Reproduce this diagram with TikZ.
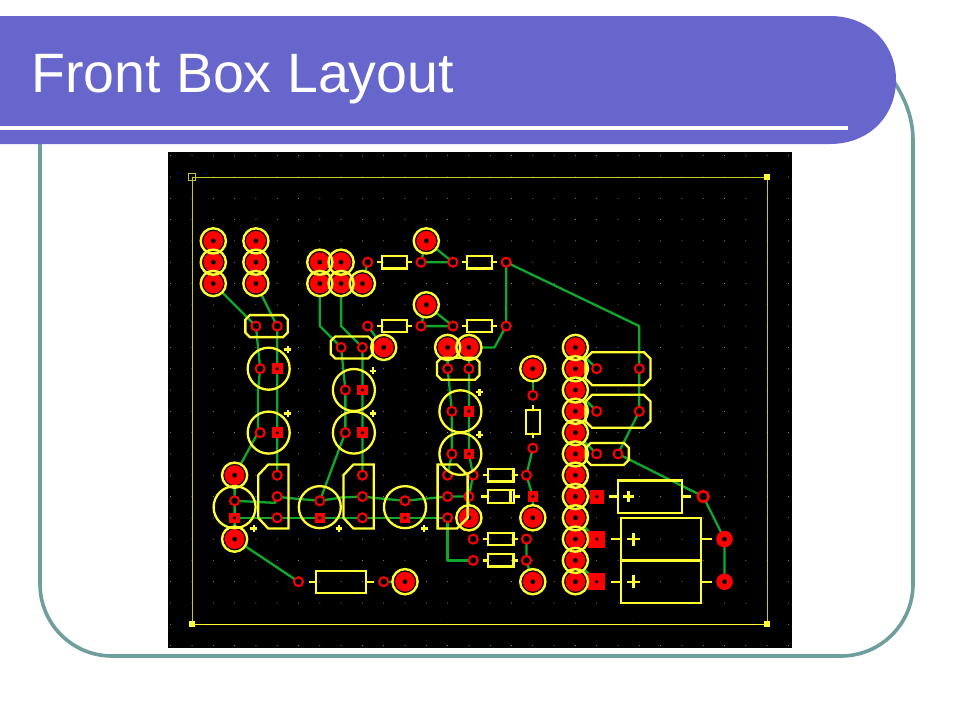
\documentclass[tikz,border=0pt]{standalone}
\usepackage{fontspec}
\setmainfont{Liberation Sans}
\definecolor{banner}{HTML}{6666CC}
\definecolor{framec}{HTML}{6F9E9E}
\definecolor{pcbyellow}{HTML}{FFFF33}
\definecolor{pcbolive}{HTML}{C8C828}
\definecolor{pcbgreen}{HTML}{10A82C}
\definecolor{pcbred}{HTML}{FF0000}
\definecolor{pcbdot}{HTML}{A0A090}
\tikzset{
  trace/.style={draw=pcbgreen,line width=2.3pt,line join=round},
  silk/.style={draw=pcbyellow,line width=2.3pt,line join=miter},
  boardline/.style={draw=pcbolive,line width=1pt},
}
% large pad: red disc, black drill hole
\newcommand{\bigpad}[2]{%
  \fill[black] (#1,#2) circle (12pt);
  \fill[pcbred] (#1,#2) circle (10pt);
  \fill[black] (#1,#2) circle (2.4pt);}
\newcommand{\bigring}[2]{\draw[silk,line width=2.4pt] (#1,#2) circle (12.6pt);}
\newcommand{\barepad}[3]{%
  \fill[pcbred] (#1,#2) circle (#3);
  \fill[black] (#1,#2) circle (2.4pt);}
% small ring pad
\newcommand{\ringpad}[2]{%
  \fill[black] (#1,#2) circle (4.4pt);
  \draw[pcbred,line width=2pt] (#1,#2) circle (4.5pt);}
% square pad
\newcommand{\sqpad}[3]{%
  \fill[pcbred] ([shift={(-#3,-#3)}]#1,#2) rectangle ([shift={(#3,#3)}]#1,#2);
  \fill[black] (#1,#2) circle (1.8pt);}
\newcommand{\plusmark}[3]{%
  \draw[silk] ([shift={(-#3,0pt)}]#1,#2) -- ([shift={(#3,0pt)}]#1,#2);
  \draw[silk] ([shift={(0pt,-#3)}]#1,#2) -- ([shift={(0pt,#3)}]#1,#2);}
% horizontal two-lead body: centre i j, half width, half height, lead reach
\newcommand{\hbody}[5]{%
  \draw[silk] ([shift={(-#3,-#4)}]#1,#2) rectangle ([shift={(#3,#4)}]#1,#2);
  \draw[silk] ([shift={(-#5,0pt)}]#1,#2) -- ([shift={(-#3,0pt)}]#1,#2);
  \draw[silk] ([shift={(#3,0pt)}]#1,#2) -- ([shift={(#5,0pt)}]#1,#2);}
% chamfered header: centre i j, half width, half height, chamfer
\newcommand{\hdrbox}[5]{%
  \draw[silk] ([shift={(-#3+#5,#4)}]#1,#2) -- ([shift={(#3-#5,#4)}]#1,#2) --
    ([shift={(#3,#4-#5)}]#1,#2) -- ([shift={(#3,-#4+#5)}]#1,#2) --
    ([shift={(#3-#5,-#4)}]#1,#2) -- ([shift={(-#3+#5,-#4)}]#1,#2) --
    ([shift={(-#3,-#4+#5)}]#1,#2) -- ([shift={(-#3,#4-#5)}]#1,#2) -- cycle;}
\begin{document}
\begin{tikzpicture}[x=1pt,y=-1pt]
\useasboundingbox (0,0) rectangle (960,720);
\fill[white] (0,0) rectangle (960,720);
% slide frame
\draw[framec,line width=3.6pt,rounded corners=72pt] (40,120) -- (40,656) -- (913,656) -- (913,140);
\draw[framec,line width=3.6pt] (913,141) .. controls (913,122) and (908,103) .. (893,80);
% banner
\fill[banner] (0,16) -- (830,16) .. controls (870,16) and (896,45) .. (896,80) .. controls (896,115) and (870,144) .. (830,144) -- (0,144) -- cycle;
\fill[white] (0,126) rectangle (848,130);
\node[anchor=base west,inner sep=0pt,text=white,font=\fontsize{55.5}{56}\selectfont] (title) at (31,92) {Front Box Layout};
% board
\fill[black] (168,152) rectangle (792,648);
\begin{scope}[shift={(192,177)},x=21.3pt,y=-21.3pt]
  \foreach \i in {-1,...,28} \foreach \j in {-1,...,22}
    \fill[pcbdot] (\i,\j) circle (0.5pt);
  % outline
  \draw[boardline] (0,0) -- (27,0) -- (27,21);
  \draw[pcbyellow,line width=1pt] (27,21) -- (0,21);
  \draw[boardline] (0,21) -- (0,0);
  \draw[pcbolive,line width=1pt] ([shift={(-3.2pt,-3.2pt)}]0,0) rectangle ([shift={(3.2pt,3.2pt)}]0,0);
  \foreach \p in {(27,0),(27,21),(0,21)}
    \fill[pcbyellow] \p ++(-3pt,-3pt) rectangle ++(6pt,6pt);
  % traces
  \draw[trace] (1,5) -- (3,7) -- (3.2,9) -- (3.1,10) -- (3.1,12) -- (2,14) -- (2,17) -- (5,19);
  \draw[trace] (3,5) -- (4,7) -- (4,14);
  \draw[trace] (2,15.2) -- (3.9,15.3) -- (4,15) -- (4.5,15.07) -- (6,15.2) -- (7,15.05) -- (8,15) -- (8.6,15.07) -- (10,15.2) -- (10.5,15.15) -- (12,15) -- (13,15);
  \draw[trace] (2,16) -- (12,16) -- (12,18) -- (13.2,18);
  \draw[trace] (6,5) -- (6,7) -- (7,8) -- (7.2,10) -- (7.2,12) -- (6,15.2);
  \draw[trace] (7,5) -- (7,7) -- (8,8) -- (8,14);
  \draw[trace] (8,5) -- (8.25,4);
  \draw[trace] (8.25,7) -- (9,8);
  \draw[trace] (9,19) -- (10,19);
  \foreach \j/\k in {3/4,6/7}{
    \draw[trace] (11,\j) -- (10.75,\k) -- (12.25,\k) -- cycle;}
  \draw[trace] (12,8) -- (12,9) -- (12.2,11) -- (12.2,13) -- (12,14);
  \draw[trace] (13,8) -- (13,13) -- (13.2,14) -- (13,15) -- (13,16);
  \draw[trace] (13,8) -- (14.2,8) -- (14.75,7) -- (14.75,4) -- (21,7) -- (21,11) -- (20,13) -- (24,15) -- (25,17) -- (25,19);
  \draw[trace] (16,9) -- (16,10.25);
  \draw[trace] (16,12.73) -- (15.7,14) -- (16,15) -- (16,16);
  \draw[trace] (15.7,17) -- (15.7,18) -- (16,19);
  \draw[trace] (18,8) -- (19,9);
  \draw[trace] (18,10) -- (19,11);
  \draw[trace] (18,12) -- (19,13);
  \draw[trace] (18,15) -- (19,15);
  \draw[trace] (18,16) -- (19,17);
  \draw[trace] (18,18) -- (19,19);
  % large pads
  \foreach \p/\q in {1/3,1/4,1/5,3/3,3/4,3/5,6/4,7/4,6/5,7/5,8/5,11/3,11/6,9/8,12/8,13/8,2/14,2/17,10/19,13/16,16/9,16/16,16/19,
     18/8,18/9,18/10,18/11,18/12,18/13,18/14,18/15,18/16,18/17,18/18,18/19}
     \bigpad{\p}{\q};
  \fill[black] (24,15) circle (5pt);
  \draw[pcbred,line width=2.6pt] (24,15) circle (5.4pt);
  \barepad{25}{17}{8.3pt}
  \barepad{25}{19}{8.3pt}
  % small ring pads
  \foreach \p/\q in {8.25/4,10.75/4,12.25/4,14.75/4,8.25/7,10.75/7,12.25/7,14.75/7,
     3/7,4/7,7/8,8/8,12/9,13/9,3.2/9,7.2/10,12.2/11,3.2/12,7.2/12,12.2/13,
     2/15.2,6/15.2,10/15.2,4/14,4/15,4/16,8/14,8/15,8/16,12/14,12/15,12/16,
     13.2/14,13/15,13.2/17,13.2/18,5/19,9/19,
     16/10.25,16/12.73,15.7/14,15.7/17,15.7/18,19/9,21/9,19/11,21/11,19/13,20/13}
     \ringpad{\p}{\q};
  % square pads
  \foreach \p/\q in {4/9,8/10,13/11,4/12,8/12,13/13,2/16,6/16,10/16,16/15}
     \sqpad{\p}{\q}{5.3pt};
  \sqpad{19}{15}{7pt}
  \sqpad{19}{17}{8.6pt}
  \sqpad{19}{19}{8.6pt}
  % rings of large pads
  \foreach \p/\q in {1/3,1/4,1/5,3/3,3/4,3/5,6/4,7/4,6/5,7/5,8/5,11/3,11/6,9/8,12/8,13/8,2/14,2/17,10/19,13/16,16/9,16/16,16/19,
     18/8,18/9,18/10,18/11,18/12,18/13,18/14,18/15,18/16,18/17,18/18,18/19}
     \bigring{\p}{\q};
  % resistors
  \foreach \c/\j in {9.5/4,13.5/4,9.5/7,13.5/7,14.5/14,14.5/17,14.5/18}
     \hbody{\c}{\j}{12.6pt}{6.2pt}{17.5pt};
  \hbody{14.5}{15}{13pt}{6.2pt}{19.5pt}
  \draw[silk] ([shift={(9.5pt,-6.2pt)}]14.5,15) -- ([shift={(9.5pt,6.2pt)}]14.5,15);
  \hbody{7}{19}{25pt}{11pt}{32.5pt}
  % vertical resistor
  \draw[silk] ([shift={(-7pt,-12pt)}]16,11.5) rectangle ([shift={(7pt,12pt)}]16,11.5);
  \draw[silk] ([shift={(0pt,12pt)}]16,11.5) -- ([shift={(0pt,16.5pt)}]16,11.5);
  \draw[silk] ([shift={(0pt,-12pt)}]16,11.5) -- ([shift={(0pt,-16.5pt)}]16,11.5);
  % headers
  \hdrbox{3.5}{7}{21.2pt}{11pt}{4.5pt}
  \hdrbox{7.5}{8}{21pt}{11pt}{4.5pt}
  \hdrbox{12.5}{9}{21.2pt}{11pt}{4.5pt}
  \hdrbox{20}{9}{32.4pt}{16.5pt}{6.5pt}
  \hdrbox{20}{11}{32.4pt}{16.5pt}{6.5pt}
  \hdrbox{19.5}{13}{21.5pt}{11pt}{5pt}
  % electrolytic capacitors
  \foreach \c/\j in {3.6/9,3.6/12,7.6/10,7.6/12,12.6/11,12.6/13}
     \draw[silk] (\c,\j) circle (21pt);
  \foreach \c/\j in {2/15.5,6/15.5,10/15.5}
     \draw[silk] (\c,\j) circle (21pt);
  \foreach \c/\j in {4.5/8.1,4.5/11.1,8.5/9.1,8.5/11.1,13.5/10.1,13.5/12.1,2.9/16.5,6.9/16.5,10.9/16.5}
     \plusmark{\c}{\j}{3.4pt};
  % ICs with chamfered corners
  \foreach \c in {4,8}{
    \draw[silk] ([shift={(-19pt,21.3pt)}]\c,15) -- ([shift={(-9pt,32pt)}]\c,15) -- ([shift={(11.3pt,32pt)}]\c,15)
      -- ([shift={(11.3pt,-32pt)}]\c,15) -- ([shift={(-9pt,-32pt)}]\c,15) -- ([shift={(-19pt,-21.3pt)}]\c,15) -- cycle;}
  \draw[silk] ([shift={(-10pt,32pt)}]12,15) -- ([shift={(9.3pt,32pt)}]12,15) -- ([shift={(20pt,21.3pt)}]12,15)
     -- ([shift={(20pt,-21.3pt)}]12,15) -- ([shift={(9.3pt,-32pt)}]12,15) -- ([shift={(-10pt,-32pt)}]12,15) -- cycle;
  % right side capacitor bodies
  \hbody{21.5}{15}{32.15pt}{16.15pt}{40.8pt}
  \plusmark{20.49}{15}{5.5pt}
  \foreach \j in {17,19}{
    \hbody{22.02}{\j}{39.7pt}{21.3pt}{50.5pt}
    \plusmark{20.73}{\j}{6.4pt}}
\end{scope}
\end{tikzpicture}
\end{document}
